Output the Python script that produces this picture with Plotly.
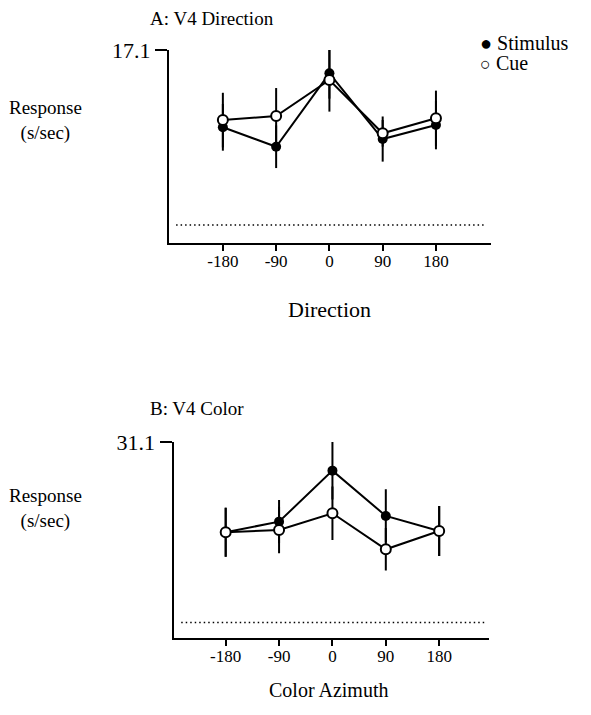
import plotly.graph_objects as go

# ---- data ----
directions = [-180, -90, 0, 90, 180]
dir_stimulus = [10.25, 8.53, 15.03, 9.21, 10.45]
dir_stimulus_err = [2.07, 1.89, 2.24, 2.0, 2.15]
dir_cue = [10.89, 11.25, 14.44, 9.72, 11.05]
dir_cue_err = [2.42, 2.48, 2.8, 1.18, 2.45]
dir_baseline = 1.6
dir_max = 17.1

azimuths = [-180, -90, 0, 90, 180]
col_stimulus = [16.76, 18.44, 26.55, 19.35, 16.96]
col_stimulus_err = [3.9, 3.45, 4.6, 4.24, 3.97]
col_cue = [16.76, 17.12, 19.78, 14.05, 16.96]
col_cue_err = [3.9, 3.7, 4.24, 3.39, 3.97]
col_baseline = 2.4
col_max = 31.1

x_ticks = [-180, -90, 0, 90, 180]
x_ticktext = ["-180", "-90", "0", "90", "180"]

W, H = 591, 715
OFF = 8  # page body margin compensation
FONT = "Liberation Serif"


def px(x):
    return (x - OFF) / W


def py(y):
    return 1 - (y - OFF) / H


fig = go.Figure()


def add_pair(xs, stim, stim_err, cue, cue_err, xa, ya):
    fig.add_trace(go.Scatter(
        x=xs, y=stim, mode="lines+markers", xaxis=xa, yaxis=ya,
        line=dict(color="black", width=2),
        marker=dict(color="black", size=10, line=dict(width=0)),
        error_y=dict(type="data", array=stim_err, color="black", thickness=2, width=0),
        showlegend=False, name="Stimulus"))
    fig.add_trace(go.Scatter(
        x=xs, y=cue, mode="lines+markers", xaxis=xa, yaxis=ya,
        line=dict(color="black", width=2),
        marker=dict(color="white", size=10, line=dict(color="black", width=2)),
        error_y=dict(type="data", array=cue_err, color="black", thickness=2, width=0),
        showlegend=False, name="Cue"))


add_pair(directions, dir_stimulus, dir_stimulus_err, dir_cue, dir_cue_err, "x", "y")
add_pair(azimuths, col_stimulus, col_stimulus_err, col_cue, col_cue_err, "x2", "y2")

# baselines (dotted)
fig.add_shape(type="line", xref="x", yref="y", x0=-259, x1=261, y0=dir_baseline, y1=dir_baseline,
              line=dict(color="black", width=1.5, dash="1.5px,3px"))
fig.add_shape(type="line", xref="x2", yref="y2", x0=-255, x1=256, y0=col_baseline, y1=col_baseline,
              line=dict(color="black", width=1.5, dash="1.5px,3px"))

xaxis_common = dict(showgrid=False, zeroline=False, showline=True, linecolor="black", linewidth=2,
                    automargin=False,
                    ticks="outside", ticklen=6, tickwidth=2, tickcolor="black",
                    ticklabelstandoff=-4,
                    tickvals=x_ticks, ticktext=x_ticktext,
                    tickfont=dict(family=FONT, size=17, color="black"))
yaxis_common = dict(showgrid=False, zeroline=False, showline=True, linecolor="black", linewidth=2,
                    automargin=False,
                    ticks="outside", ticklen=12, tickwidth=2, tickcolor="black",
                    tickfont=dict(family=FONT, size=22, color="black"))

fig.update_layout(
    template="none",
    width=W, height=H,
    margin=dict(l=0, r=0, t=0, b=0, pad=0),
    paper_bgcolor="white", plot_bgcolor="white",
    xaxis=dict(xaxis_common, domain=[px(169), px(491)], range=[-271, 273], anchor="y"),
    yaxis=dict(yaxis_common, domain=[py(243), py(50)], range=[0, dir_max],
               tickvals=[dir_max], ticktext=[str(dir_max)], anchor="x"),
    xaxis2=dict(xaxis_common, domain=[px(173.5), px(489)], range=[-268, 264], anchor="y2"),
    yaxis2=dict(yaxis_common, domain=[py(637.7), py(442)], range=[0, col_max],
                tickvals=[col_max], ticktext=[str(col_max)], anchor="x2"),
)

tf = dict(family=FONT, size=19, color="black")
ann = [
    dict(text="A: V4 Direction", x=px(148), y=py(19), xanchor="left", yanchor="middle", font=tf),
    dict(text="Response<br>(s/sec)", x=px(46), y=py(120), xanchor="center", yanchor="middle", font=tf),
    dict(text="Direction", x=px(329), y=py(309), xanchor="center", yanchor="middle",
         font=dict(family=FONT, size=22, color="black")),
    dict(text="<span style='font-size:20px'>●</span> Stimulus", x=px(478), y=py(43), xanchor="left",
         yanchor="middle", font=dict(family=FONT, size=20, color="black")),
    dict(text="<span style='font-size:18px'>○</span> Cue", x=px(478), y=py(63), xanchor="left",
         yanchor="middle", font=dict(family=FONT, size=20, color="black")),
    dict(text="B: V4 Color", x=px(148), y=py(408), xanchor="left", yanchor="middle", font=tf),
    dict(text="Response<br>(s/sec)", x=px(46), y=py(508), xanchor="center", yanchor="middle", font=tf),
    dict(text="Color Azimuth", x=px(328), y=py(690), xanchor="center", yanchor="middle",
         font=dict(family=FONT, size=20, color="black")),
]
for a in ann:
    a.update(xref="paper", yref="paper", showarrow=False)
fig.update_layout(annotations=ann)

fig.write_html("out.html")
